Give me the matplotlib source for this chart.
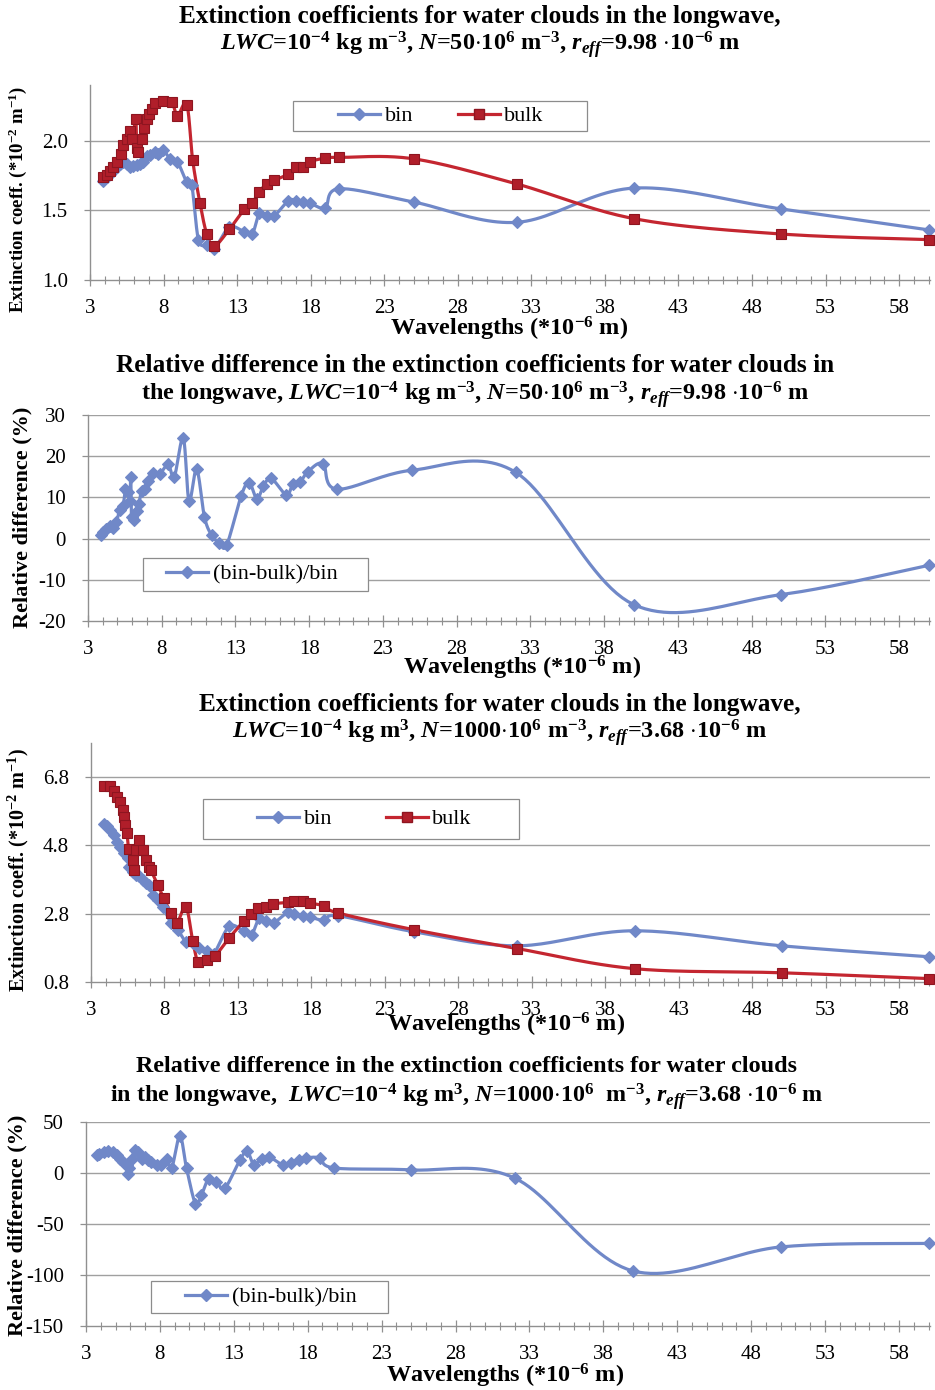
import numpy as np
import matplotlib
matplotlib.use("Agg")
import matplotlib.pyplot as plt
from matplotlib.lines import Line2D
from matplotlib.patches import Rectangle
from matplotlib.ticker import MultipleLocator, FormatStrFormatter, FixedLocator

plt.rcParams['font.family'] = ['Liberation Serif', 'DejaVu Serif']
plt.rcParams['mathtext.fontset'] = 'custom'
plt.rcParams['mathtext.rm'] = 'Liberation Serif:bold'
plt.rcParams['mathtext.it'] = 'Liberation Serif:italic:bold'
plt.rcParams['mathtext.bf'] = 'Liberation Serif:bold'
plt.rcParams['mathtext.default'] = 'rm'

# ---------------- data ----------------
# Panel 1: N=50e6, reff=9.98 um
p1_bin_wl = [3.91, 4.13, 4.36, 4.59, 4.81, 5.04, 5.27, 5.49, 5.72, 5.95, 6.17, 6.40, 6.63,
             6.85, 7.08, 7.42, 7.65, 7.99, 8.44, 8.94, 9.58, 9.92, 10.37, 10.94, 11.46,
             12.48, 13.5, 14.04, 14.52, 15.02, 15.52, 16.49, 16.99, 17.51, 17.97, 18.99,
             19.94, 25, 32, 40, 50, 60]
p1_bin = [1.714, 1.74, 1.76, 1.785, 1.81, 1.833, 1.845, 1.833, 1.81, 1.82, 1.826, 1.833, 1.845,
          1.89, 1.90, 1.917, 1.905, 1.93, 1.87, 1.85, 1.70, 1.68, 1.29, 1.25, 1.226,
          1.38, 1.345, 1.333, 1.48, 1.46, 1.46, 1.57, 1.57, 1.56, 1.55, 1.52,
          1.655, 1.56, 1.414, 1.66, 1.51, 1.36]
p1_bulk_wl = [3.91, 4.13, 4.36, 4.59, 4.81, 5.09, 5.27, 5.49, 5.72, 5.88, 6.11, 6.17, 6.29,
              6.51, 6.67, 6.90, 7.04, 7.19, 7.42, 7.99, 8.56, 8.94, 9.58, 9.98, 10.48, 10.94,
              11.46, 12.48, 13.5, 14.04, 14.52, 15.02, 15.52, 16.49, 16.99, 17.51, 17.97,
              18.99, 19.94, 25, 32, 40, 50, 60]
p1_bulk = [1.74, 1.755, 1.78, 1.81, 1.845, 1.905, 1.97, 2.01, 2.07, 2.01, 2.155, 1.95, 1.92,
           2.01, 2.09, 2.155, 2.19, 2.23, 2.27, 2.285, 2.28, 2.18, 2.26, 1.86, 1.55, 1.33,
           1.245, 1.365, 1.51, 1.555, 1.635, 1.69, 1.715, 1.76, 1.81, 1.81, 1.85,
           1.875, 1.88, 1.87, 1.69, 1.44, 1.33, 1.29]

# Panel 2: relative difference, N=50e6
p2_wl = [3.86, 4.0, 4.25, 4.47, 4.7, 4.93, 5.15, 5.38, 5.54, 5.68, 5.83, 5.9, 5.95, 6.13,
         6.29, 6.45, 6.63, 6.85, 7.08, 7.42, 7.88, 8.44, 8.85, 9.46, 9.85, 10.37, 10.9,
         11.39, 11.9, 12.4, 13.39, 13.93, 14.45, 14.9, 15.43, 16.45, 16.9, 17.4, 17.9,
         18.94, 19.9, 25, 32, 40, 50, 60]
p2_rel = [0.8, 1.6, 2.4, 3.0, 2.6, 4.0, 7.0, 8.0, 12.0, 11.2, 9.2, 15.0, 5.2, 4.4,
          6.8, 8.4, 11.6, 12.0, 14.0, 16.0, 15.8, 18.0, 15.0, 24.4, 9.2, 16.8, 5.2,
          0.8, -1.0, -1.6, 10.4, 13.6, 9.6, 12.8, 14.6, 10.6, 13.2, 13.8, 16.2,
          18.2, 12.0, 16.6, 16.1, -16.0, -13.6, -6.5]

# Panel 3: N=1000e6, reff=3.68 um
p3_bin_wl = [3.86, 4.09, 4.32, 4.54, 4.77, 5.0, 5.27, 5.49, 5.61, 5.83, 6.06, 6.29, 6.51,
             6.74, 6.97, 7.2, 7.54, 7.88, 8.44, 8.9, 9.46, 9.92, 10.37, 10.89, 11.34,
             12.41, 13.39, 13.93, 14.45, 14.9, 15.43, 16.38, 16.83, 17.4, 17.92, 18.87,
             19.83, 25, 32, 40, 50, 60]
p3_bin = [5.44, 5.36, 5.25, 5.10, 4.91, 4.74, 4.57, 4.42, 4.18, 4.03, 3.94, 3.89, 3.79,
          3.69, 3.64, 3.35, 3.21, 3.01, 2.53, 2.33, 1.97, 1.95, 1.80, 1.70, 1.61,
          2.43, 2.29, 2.19, 2.67, 2.58, 2.53, 2.84, 2.80, 2.74, 2.70, 2.61,
          2.74, 2.27, 1.86, 2.30, 1.86, 1.54]
p3_bulk_wl = [3.91, 4.32, 4.54, 4.77, 5.0, 5.15, 5.27, 5.34, 5.45, 5.56, 5.83, 5.9, 6.06,
              6.29, 6.51, 6.74, 6.97, 7.08, 7.54, 7.94, 8.44, 8.85, 9.46, 9.92, 10.3,
              10.89, 11.44, 12.41, 13.39, 13.88, 14.38, 14.9, 15.36, 16.38, 16.83, 17.4,
              17.92, 18.87, 19.83, 25, 32, 40, 50, 60]
p3_bulk = [6.53, 6.53, 6.39, 6.22, 6.07, 5.85, 5.63, 5.39, 5.15, 4.71, 4.37, 4.08, 4.66,
           4.96, 4.66, 4.37, 4.18, 4.08, 3.64, 3.26, 2.82, 2.53, 3.01, 2.0, 1.38,
           1.44, 1.56, 2.09, 2.58, 2.80, 2.97, 3.01, 3.09, 3.13, 3.16, 3.16,
           3.11, 3.03, 2.82, 2.33, 1.78, 1.19, 1.07, 0.90]

# Panel 4: relative difference, N=1000e6
p4_wl = [3.72, 3.9, 4.2, 4.5, 4.8, 5.1, 5.3, 5.5, 5.75, 5.86, 5.93, 6.1, 6.3, 6.54, 6.76,
         7.0, 7.2, 7.4, 7.8, 8.1, 8.45, 8.8, 9.35, 9.8, 10.4, 10.8, 11.3, 11.8, 12.4,
         13.4, 13.9, 14.35, 14.9, 15.4, 16.3, 16.9, 17.4, 17.9, 18.8, 19.8, 25, 32,
         40, 50, 60]
p4_rel = [17.3, 19.0, 20.6, 21.3, 20.6, 18.0, 13.4, 10.8, 7.5, -0.7, 4.9, 14.1, 22.2, 20.6,
          14.1, 15.7, 12.4, 10.8, 8.2, 8.2, 13.4, 4.9, 36.3, 4.9, -30.0, -21.9, -5.6, -8.8,
          -14.7, 12.4, 21.3, 8.2, 14.1, 15.7, 8.2, 10.1, 12.4, 14.7, 14.7, 4.9, 3.0, -5.0,
          -96.0, -72.5, -69.0]

x_ticks = [3, 8, 13, 18, 23, 28, 33, 38, 43, 48, 53, 58]

# ---------------- style ----------------
BLUE = '#7088C8'
RED = '#C42630'
RED_M = '#B01E2A'
RED_E = '#8E1520'
GRID = '#A0A0A0'
FW, FH = 935, 1390

fig = plt.figure(figsize=(FW / 100, FH / 100), dpi=100)


def box(l, t, r, b):
    return [l / FW, 1 - b / FH, (r - l) / FW, (b - t) / FH]


def smooth(ax, x, y, n=24):
    x = np.asarray(x, float)
    y = np.asarray(y, float)
    x0, x1 = ax.get_xlim()
    y0, y1 = ax.get_ylim()
    pos = ax.get_position()
    sx = pos.width * FW / (x1 - x0)
    sy = pos.height * FH / (y1 - y0)
    P = np.column_stack([(x - x0) * sx, (y - y0) * sy])
    t = np.linspace(0, 1, n)[:, None]
    out = []
    m = len(P)
    for i in range(m - 1):
        p0 = P[max(i - 1, 0)]
        p1 = P[i]
        p2 = P[i + 1]
        p3 = P[min(i + 2, m - 1)]
        c1 = p1 + (p2 - p0) / 6.0
        c2 = p2 - (p3 - p1) / 6.0
        seg = ((1 - t) ** 3) * p1 + 3 * ((1 - t) ** 2) * t * c1 + 3 * (1 - t) * t ** 2 * c2 + t ** 3 * p2
        out.append(seg if i == 0 else seg[1:])
    S = np.vstack(out)
    return S[:, 0] / sx + x0, S[:, 1] / sy + y0


def setup(ax, ylim, yticks, fmt):
    ax.set_xlim(3, 60.1)
    ax.set_ylim(*ylim)
    ax.xaxis.set_major_locator(FixedLocator(x_ticks))
    ax.xaxis.set_minor_locator(MultipleLocator(1))
    ax.yaxis.set_major_locator(FixedLocator(yticks))
    ax.yaxis.set_major_formatter(FormatStrFormatter(fmt))
    for s in ['top', 'right']:
        ax.spines[s].set_visible(False)
    for s in ['left', 'bottom']:
        ax.spines[s].set_color('#909090')
        ax.spines[s].set_linewidth(1.0)
    ax.tick_params(axis='x', which='major', direction='inout', length=9, width=0.9,
                   color='#909090', labelsize=15, pad=9)
    ax.tick_params(axis='x', which='minor', direction='inout', length=6, width=0.8,
                   color='#909090')
    ax.tick_params(axis='y', which='major', direction='out', length=4, width=0.9,
                   color='#909090', labelsize=15, pad=12)
    for v in yticks:
        if v != ylim[0]:
            ax.axhline(v, color=GRID, lw=1.0, zorder=0)


MS_D = 6.2
MS_S = 7.2


def draw(ax, x, y, color, marker, ms, mfc, mec):
    sx, sy = smooth(ax, x, y)
    ax.plot(sx, sy, color=color, lw=2.3, zorder=3, solid_capstyle='round')
    ax.plot(x, y, linestyle='none', marker=marker, ms=ms, mfc=mfc, mec=mec, mew=0.8,
            zorder=4, clip_on=False)


def legend(ax, entries, frame_px, handle_x_px, colspace, fs=16):
    l, t, r, b = frame_px
    fig.patches.append(Rectangle((l / FW, 1 - b / FH), (r - l) / FW, (b - t) / FH,
                                 transform=fig.transFigure, fill=True, facecolor='white',
                                 edgecolor='#8C8C8C', lw=0.9, zorder=5))
    handles = [Line2D([], [], color=c, lw=2.3, marker=m, ms=ms, mfc=mf, mec=me, label=lab)
               for (lab, c, m, ms, mf, me) in entries]
    ycen = 1 - (t + b) / 2 / FH
    lg = fig.legend(handles=handles, loc='center left',
                    bbox_to_anchor=(handle_x_px / FW, ycen), bbox_transform=fig.transFigure,
                    ncol=len(entries), frameon=False, fontsize=fs, handlelength=1.9,
                    handletextpad=0.2, columnspacing=colspace, borderpad=0,
                    borderaxespad=0)
    lg.set_zorder(6)


def title(x, y1, y2, l1, l2, fs1=18.2, fs2=17.5):
    fig.text(x / FW, 1 - y1 / FH, l1, ha='center', va='center', fontsize=fs1, fontweight='bold')
    fig.text(x / FW, 1 - y2 / FH, l2, ha='center', va='center', fontsize=fs2, fontweight='bold')


def xlab(x, y):
    fig.text(x / FW, 1 - y / FH, r'Wavelengths (*10$^{-6}$ m)', ha='center', va='center',
             fontsize=17.5, fontweight='bold')


def ylab(x, y, s, fs):
    fig.text(x / FW, 1 - y / FH, s, ha='center', va='center', rotation=90,
             fontsize=fs, fontweight='bold')


bin_entry = ('bin', BLUE, 'D', MS_D, BLUE, BLUE)
bulk_entry = ('bulk', RED, 's', MS_S, RED_M, RED_E)
rel_entry = ('(bin-bulk)/bin', BLUE, 'D', MS_D, BLUE, BLUE)

# ---------- Panel 1 ----------
ax1 = fig.add_axes(box(90, 85, 930, 280))
setup(ax1, (1.0, 2.4), [1.0, 1.5, 2.0], '%.1f')
draw(ax1, p1_bin_wl, p1_bin, BLUE, 'D', MS_D, BLUE, BLUE)
draw(ax1, p1_bulk_wl, p1_bulk, RED, 's', MS_S, RED_M, RED_E)
legend(ax1, [bin_entry, bulk_entry], (293, 101, 587, 131), 338, 2.0)
title(480, 16, 44, 'Extinction coefficients for water clouds in the longwave,',
      r'$\mathit{LWC}$=10$^{-4}$ kg m$^{-3}$, $\mathit{N}$=50$\cdot$10$^{6}$ m$^{-3}$, '
      r'$\mathit{r}_{\mathit{eff}}$=9.98 $\cdot$10$^{-6}$ m')
xlab(509, 329)
ylab(18, 199, r'Extinction coeff. (*10$^{-2}$ m$^{-1}$)', 13.5)

# ---------- Panel 2 ----------
ax2 = fig.add_axes(box(88, 415, 930, 621))
setup(ax2, (-20, 30), [-20, -10, 0, 10, 20, 30], '%d')
draw(ax2, p2_wl, p2_rel, BLUE, 'D', MS_D, BLUE, BLUE)
legend(ax2, [rel_entry], (143, 558, 368, 591), 166, 1.0)
title(475, 365, 394, 'Relative difference in the extinction coefficients for water clouds in',
      r'the longwave, $\mathit{LWC}$=10$^{-4}$ kg m$^{-3}$, $\mathit{N}$=50$\cdot$10$^{6}$ m$^{-3}$, '
      r'$\mathit{r}_{\mathit{eff}}$=9.98 $\cdot$10$^{-6}$ m')
xlab(522, 668)
ylab(22, 517, 'Relative difference (%)', 16)

# ---------- Panel 3 ----------
ax3 = fig.add_axes(box(91, 743, 930, 982))
setup(ax3, (0.8, 7.8), [0.8, 2.8, 4.8, 6.8], '%.1f')
draw(ax3, p3_bin_wl, p3_bin, BLUE, 'D', MS_D, BLUE, BLUE)
draw(ax3, p3_bulk_wl, p3_bulk, RED, 's', MS_S, RED_M, RED_E)
legend(ax3, [bin_entry, bulk_entry], (203, 799, 519, 839), 257, 2.4)
title(500, 704, 732, 'Extinction coefficients for water clouds in the longwave,',
      r'$\mathit{LWC}$=10$^{-4}$ kg m$^{3}$, $\mathit{N}$=1000$\cdot$10$^{6}$ m$^{-3}$, '
      r'$\mathit{r}_{\mathit{eff}}$=3.68 $\cdot$10$^{-6}$ m')
xlab(506, 1025)
ylab(18, 870, r'Extinction coeff. (*10$^{-2}$ m$^{-1}$)', 14.5)

# ---------- Panel 4 ----------
ax4 = fig.add_axes(box(86, 1122, 930, 1326))
setup(ax4, (-150, 50), [-150, -100, -50, 0, 50], '%d')
draw(ax4, p4_wl, p4_rel, BLUE, 'D', MS_D, BLUE, BLUE)
legend(ax4, [rel_entry], (151, 1281, 388, 1313), 185, 1.0)
title(467, 1066, 1096, 'Relative difference in the extinction coefficients for water clouds',
      r'in the longwave,  $\mathit{LWC}$=10$^{-4}$ kg m$^{3}$, $\mathit{N}$=1000$\cdot$10$^{6}$  m$^{-3}$, '
      r'$\mathit{r}_{\mathit{eff}}$=3.68 $\cdot$10$^{-6}$ m', fs1=17.4, fs2=17.3)
xlab(505, 1376)
ylab(17, 1225, 'Relative difference (%)', 16)

fig.savefig('out.png', dpi=100)
